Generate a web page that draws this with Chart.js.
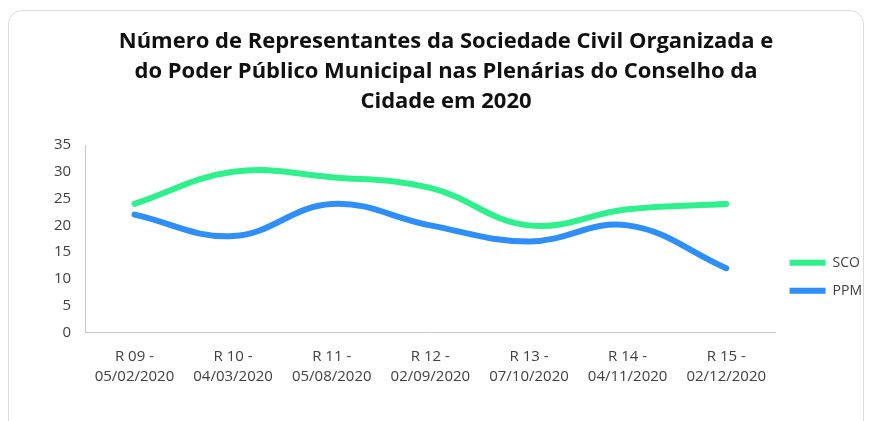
<!DOCTYPE html>
<html>
<head>
<meta charset="utf-8">
<script src="https://cdn.jsdelivr.net/npm/chart.js@4/dist/chart.umd.min.js"></script>
<style>
  html, body { margin: 0; padding: 0; background: #fff; }
  body { width: 872px; height: 421px; position: relative; overflow: hidden; }
  .card {
    position: absolute; left: 8px; top: 10px; width: 856px; height: 440px;
    border: 1px solid #dcdcdc; border-radius: 14px; box-sizing: border-box;
  }
  #wrap { position: absolute; left: 0; top: 0; width: 872px; height: 421px; }
</style>
</head>
<body>
<div class="card"></div>
<div id="wrap"><canvas id="chart"></canvas></div>
<script>
const categories = [
  ['R 09 -', '05/02/2020'],
  ['R 10 -', '04/03/2020'],
  ['R 11 -', '05/08/2020'],
  ['R 12 -', '02/09/2020'],
  ['R 13 -', '07/10/2020'],
  ['R 14 -', '04/11/2020'],
  ['R 15 -', '02/12/2020']
];
const sco = [24, 30, 29, 27, 20, 23, 24];
const ppm = [22, 18, 24, 20, 17, 20, 12];
const titleLines = [
  'Número de Representantes da Sociedade Civil Organizada e',
  'do Poder Público Municipal nas Plenárias do Conselho da',
  'Cidade em 2020'
];

const FONT = "'Open Sans', sans-serif";
Chart.defaults.font.family = FONT;
Chart.defaults.color = '#404040';

new Chart(document.getElementById('chart'), {
  type: 'line',
  data: {
    labels: categories,
    datasets: [
      {
        label: 'SCO',
        data: sco,
        borderColor: '#2ff08c',
        backgroundColor: '#2ff08c',
        borderWidth: 6,
        borderCapStyle: 'round',
        tension: 0.4,
        pointRadius: 0,
        fill: false
      },
      {
        label: 'PPM',
        data: ppm,
        borderColor: '#2f8ef7',
        backgroundColor: '#2f8ef7',
        borderWidth: 6,
        borderCapStyle: 'round',
        tension: 0.4,
        pointRadius: 0,
        fill: false
      }
    ]
  },
  options: {
    responsive: true,
    maintainAspectRatio: false,
    animation: false,
    layout: { padding: { left: 20, right: 0, top: 0, bottom: 20 } },
    plugins: {
      title: {
        display: true,
        text: titleLines,
        color: '#111',
        font: { size: 22, weight: 'bold', lineHeight: 1.364 },
        padding: { top: 27, bottom: 28 }
      },
      legend: {
        position: 'right',
        title: { display: true, text: ' ', padding: { top: 138, bottom: 0 } },
        labels: {
          usePointStyle: true,
          pointStyle: 'line',
          pointStyleWidth: 36,
          boxHeight: 18,
          padding: 14,
          color: '#404040',
          font: { size: 14 }
        }
      },
      tooltip: { enabled: false }
    },
    scales: {
      x: {
        offset: true,
        grid: { display: false, drawTicks: false },
        border: { color: '#c8c8c8', width: 1 },
        ticks: { maxRotation: 0, autoSkip: false, padding: 14, font: { size: 15, lineHeight: 1.35 }, color: '#404040' }
      },
      y: {
        min: 0,
        max: 35,
        grid: { display: false, drawTicks: false },
        border: { color: '#c8c8c8', width: 1 },
        ticks: { stepSize: 5, padding: 14, font: { size: 15 }, color: '#404040' },
        afterFit: (scale) => { scale.width += 20; }
      }
    }
  }
});
</script>
</body>
</html>
